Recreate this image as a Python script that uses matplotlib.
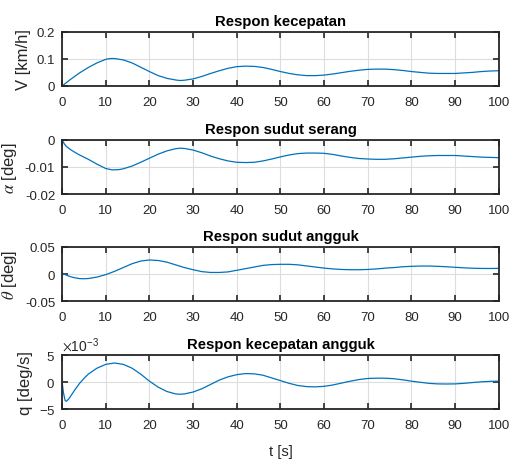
import matplotlib
matplotlib.use('Agg')
import matplotlib.pyplot as plt
from matplotlib.ticker import ScalarFormatter, FuncFormatter

# waktu [s]
t_v = [0, 2, 4, 6, 8, 10, 11, 12, 14, 16, 18, 20, 22, 24, 26, 27, 28, 30, 32, 34, 36, 38, 40, 42, 44,
       46, 48, 50, 52, 54, 56, 58, 60, 62, 64, 66, 68, 70, 72, 74, 76, 78, 80, 82, 84, 86, 88, 90,
       92, 94, 96, 98, 100]
v = [0.0, 0.025, 0.048, 0.068, 0.085, 0.098, 0.101, 0.101, 0.096, 0.085, 0.069, 0.053, 0.038,
     0.028, 0.022, 0.020, 0.021, 0.026, 0.035, 0.046, 0.056, 0.065, 0.071, 0.073, 0.072, 0.068,
     0.061, 0.053, 0.046, 0.041, 0.038, 0.038, 0.040, 0.044, 0.049, 0.054, 0.058, 0.061, 0.062,
     0.062, 0.060, 0.057, 0.053, 0.050, 0.047, 0.046, 0.046, 0.046, 0.048, 0.050, 0.053, 0.055,
     0.056]

t_a = [0, 0.5, 1, 2, 3, 4, 6, 8, 10, 11.5, 13, 14, 16, 18, 20, 22, 24, 26, 27, 28, 30, 32, 34, 36,
       38, 40, 42, 44, 46, 48, 50, 52, 54, 56, 58, 60, 62, 64, 66, 68, 70, 72, 74, 76, 78, 80, 82,
       84, 86, 88, 90, 92, 94, 96, 98, 100]
alpha = [0.0, -0.0015, -0.0025, -0.0037, -0.0047, -0.0056, -0.0072, -0.0090, -0.0106, -0.0111,
         -0.0110, -0.0107, -0.0097, -0.0083, -0.0068, -0.0053, -0.0041, -0.0033, -0.0031, -0.0032,
         -0.0038, -0.0048, -0.0060, -0.0070, -0.0078, -0.0083, -0.0084, -0.0083, -0.0078, -0.0071,
         -0.0063, -0.0056, -0.0051, -0.0049, -0.0049, -0.0050, -0.0054, -0.0060, -0.0065, -0.0069,
         -0.0071, -0.0072, -0.0072, -0.0070, -0.0067, -0.0064, -0.0061, -0.0059, -0.0058, -0.0058,
         -0.0058, -0.0060, -0.0062, -0.0064, -0.0065, -0.0066]

t_th = [0, 1, 2, 3, 4, 5, 6, 8, 10, 12, 14, 16, 18, 20, 22, 24, 26, 28, 30, 32, 34, 36, 38, 40, 42,
        44, 46, 48, 50, 52, 54, 56, 58, 60, 62, 64, 66, 68, 70, 72, 74, 76, 78, 80, 82, 84, 86, 88,
        90, 92, 94, 96, 98, 100]
theta = [0.002, -0.002, -0.005, -0.007, -0.0083, -0.0086, -0.0082, -0.0055, -0.001, 0.005, 0.012,
         0.019, 0.024, 0.026, 0.025, 0.022, 0.017, 0.012, 0.008, 0.0045, 0.003, 0.003, 0.004,
         0.007, 0.010, 0.013, 0.016, 0.0175, 0.018, 0.018, 0.017, 0.015, 0.013, 0.011, 0.0095,
         0.0085, 0.008, 0.008, 0.0085, 0.0095, 0.011, 0.012, 0.0135, 0.0143, 0.0148, 0.0148,
         0.0143, 0.0135, 0.0125, 0.0115, 0.0108, 0.0104, 0.0103, 0.0105]

t_q = [0, 0.3, 0.7, 1.0, 1.5, 2, 3, 4, 5, 6, 8, 10, 12, 14, 16, 18, 20, 22, 24, 26, 27, 28, 30, 32,
       34, 36, 38, 40, 42, 44, 46, 48, 50, 52, 54, 56, 58, 60, 62, 64, 66, 68, 70, 72, 74, 76, 78,
       80, 82, 84, 86, 88, 90, 92, 94, 96, 98, 100]
q = [0.0, -2.0, -3.5, -3.6, -3.2, -2.6, -1.4, -0.3, 0.6, 1.4, 2.5, 3.2, 3.45, 3.2, 2.5, 1.4, 0.1,
     -1.0, -1.8, -2.25, -2.3, -2.25, -1.9, -1.3, -0.5, 0.3, 0.9, 1.3, 1.5, 1.45, 1.2, 0.7, 0.2,
     -0.3, -0.7, -0.9, -0.95, -0.85, -0.6, -0.25, 0.1, 0.4, 0.6, 0.65, 0.65, 0.55, 0.35, 0.1,
     -0.1, -0.3, -0.4, -0.42, -0.4, -0.3, -0.15, -0.02, 0.07, 0.1]
q = [x * 1e-3 for x in q]

titles = ['Respon kecepatan', 'Respon sudut serang', 'Respon sudut angguk', 'Respon kecepatan angguk']
ylabels = ['V [km/h]', r'$\alpha$ [deg]', r'$\theta$ [deg]', 'q [deg/s]']
yticks = [[0, 0.1, 0.2], [-0.02, -0.01, 0], [-0.05, 0, 0.05], [-0.005, 0, 0.005]]
xticks = list(range(0, 101, 10))

plt.rcParams['font.family'] = ['Liberation Sans', 'DejaVu Sans']
plt.rcParams['font.size'] = 10
plt.rcParams['axes.unicode_minus'] = False
plt.rcParams['mathtext.fontset'] = 'stix'

fig = plt.figure(figsize=(5.09, 4.6), dpi=100)
bottoms = [0.811, 0.576, 0.343, 0.109]
series = [(t_v, v), (t_a, alpha), (t_th, theta), (t_q, q)]
txt = '#262626'

for i in range(4):
    ax = fig.add_axes([0.122, bottoms[i], 0.858, 0.118])
    ax.plot(series[i][0], series[i][1], color='#0072BD', lw=0.9)
    ax.set_xlim(0, 100)
    ax.set_ylim(yticks[i][0], yticks[i][-1])
    ax.set_xticks(xticks)
    ax.set_yticks(yticks[i])
    ax.grid(True, color='#dddddd', lw=0.8)
    ax.set_axisbelow(True)
    ax.tick_params(direction='in', top=True, right=True, length=4, width=1.2,
                   color=txt, labelcolor=txt, labelsize=9.5)
    ax.tick_params(axis='x', pad=7)
    ax.tick_params(axis='y', pad=5)
    for s in ax.spines.values():
        s.set_linewidth(1.3)
        s.set_color(txt)
    ax.set_title(titles[i], fontweight='bold', fontsize=10.7, pad=5)
    ax.set_ylabel(ylabels[i], fontsize=12, labelpad=4, color=txt)
    if i == 3:
        fmt = ScalarFormatter(useMathText=True)
        fmt.set_powerlimits((0, 0))
        ax.yaxis.set_major_formatter(fmt)
        ax.yaxis.get_offset_text().set_fontsize(10)
        ax.yaxis.get_offset_text().set_color(txt)
        ax.set_xlabel('t [s]', fontsize=10.7, color=txt, labelpad=10)
    else:
        ax.yaxis.set_major_formatter(FuncFormatter(lambda y, p: f'{y:g}'))

plt.savefig('out.png', dpi=100)
